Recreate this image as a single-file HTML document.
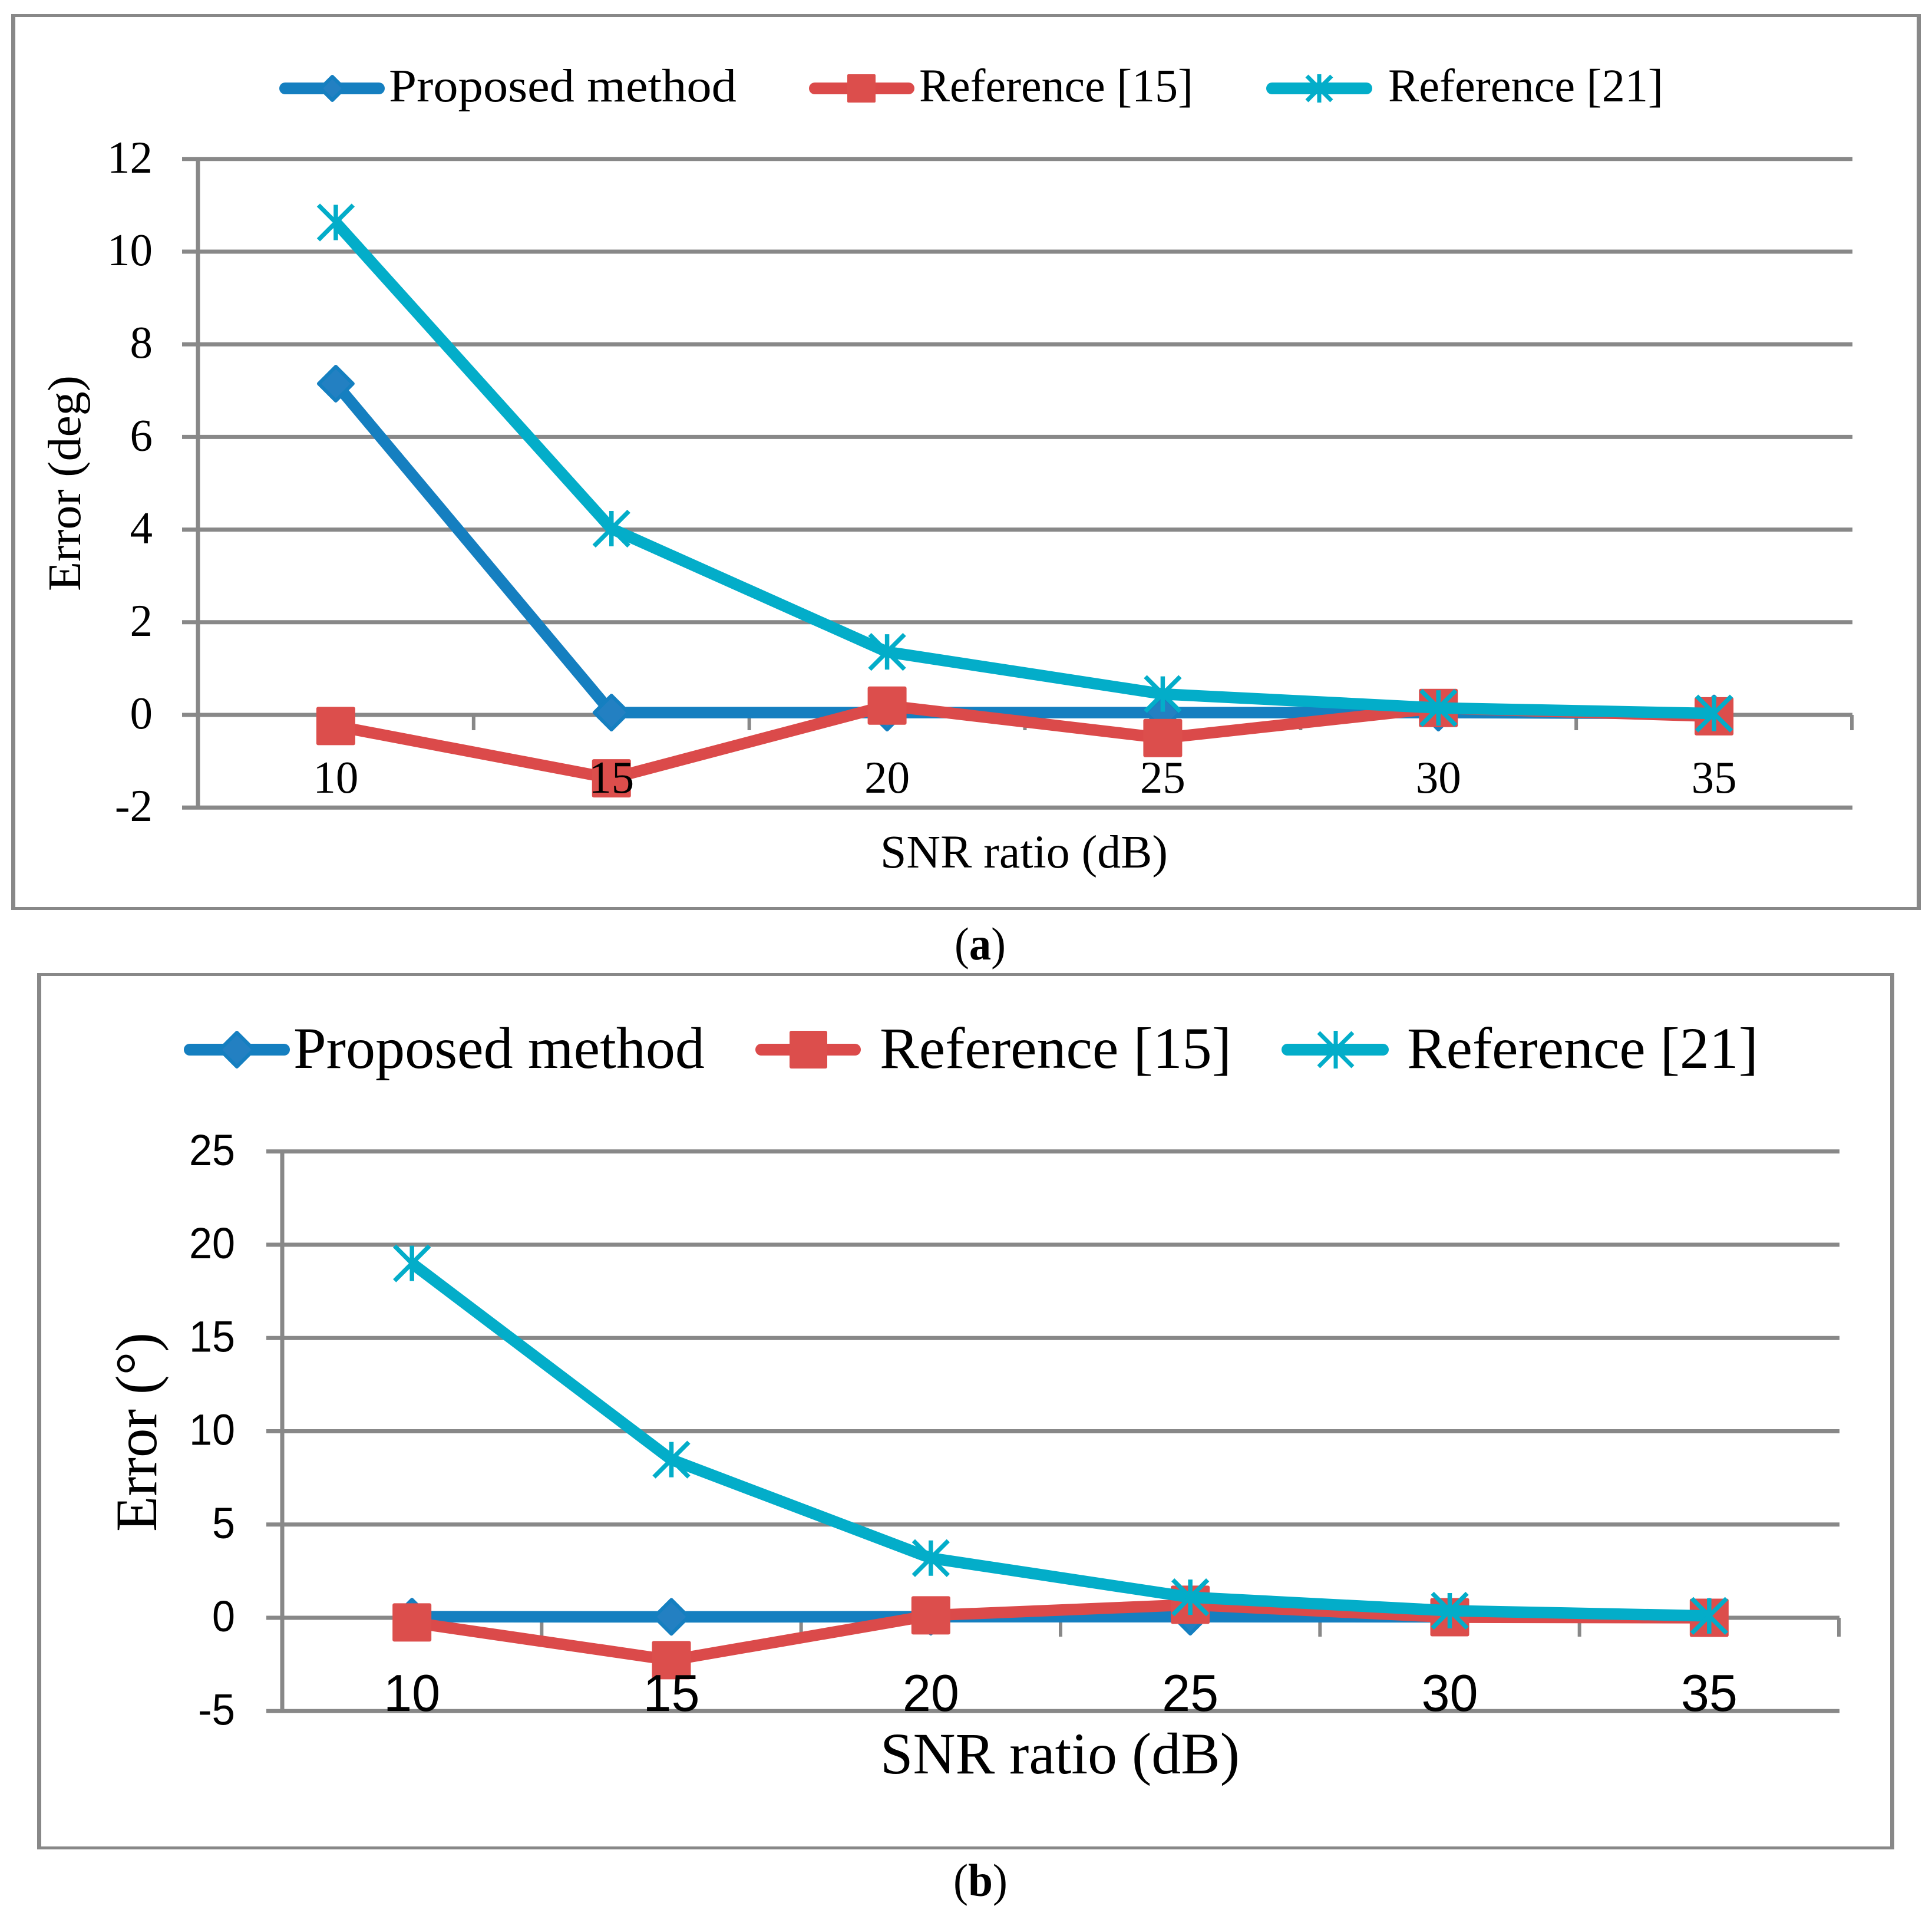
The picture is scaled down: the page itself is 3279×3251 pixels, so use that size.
<!DOCTYPE html>
<html lang="en">
<head>
<meta charset="utf-8">
<title>SNR ratio vs. error charts</title>
<style>
html,body{margin:0;padding:0;background:#fff;}
svg{display:block;}
text{fill:#000;font-family:"Liberation Serif",serif;}
.sans{font-family:"Liberation Sans",sans-serif;}
</style>
</head>
<body>
<svg id="figure" xmlns="http://www.w3.org/2000/svg" width="3279" height="3251" viewBox="0 0 3279 3251">
  <rect x="0" y="0" width="3279" height="3251" fill="#ffffff"/>

  <g fill="#888888">
    <rect x="19" y="24" width="3241" height="5"/>
    <rect x="19" y="1539" width="3241" height="5"/>
    <rect x="19" y="24" width="7" height="1520"/>
    <rect x="3253" y="24" width="7" height="1520"/>
  </g>
  <g fill="#888888">
    <rect x="63" y="1651" width="3152" height="5"/>
    <rect x="63" y="3133" width="3152" height="5"/>
    <rect x="63" y="1651" width="7" height="1487"/>
    <rect x="3208" y="1651" width="7" height="1487"/>
  </g>

  <g id="chart-a"></g>
  <g id="chart-b"></g>

  <g>
    <g>
      <line x1="484" y1="150" x2="643" y2="150" stroke="#157fc0" stroke-width="20" stroke-linecap="round"/>
      <polygon points="564,130 584,150 564,170 544,150" fill="#2380c2" stroke="#157fc0" stroke-width="6" stroke-linejoin="round"/>
      <text x="660" y="172" font-size="79" textLength="590" lengthAdjust="spacingAndGlyphs">Proposed method</text>
    </g>
    <g>
      <line x1="1383" y1="150" x2="1542" y2="150" stroke="#db4a4a" stroke-width="20" stroke-linecap="round"/>
      <rect x="1438" y="126" width="48" height="48" rx="2" fill="#dc4e4c"/>
      <text x="1560" y="172" font-size="79" textLength="465" lengthAdjust="spacingAndGlyphs">Reference [15]</text>
    </g>
    <g>
      <line x1="2159" y1="150" x2="2319" y2="150" stroke="#03adc9" stroke-width="20" stroke-linecap="round"/>
      <path d="M2239 126V174M2218 129L2260 171M2260 129L2218 171" stroke="#03adc9" stroke-width="7" fill="none"/>
      <text x="2356" y="172" font-size="79" textLength="467" lengthAdjust="spacingAndGlyphs">Reference [21]</text>
    </g>
  </g>

  <g>
    <g>
      <line x1="322" y1="1781" x2="482" y2="1781" stroke="#157fc0" stroke-width="20" stroke-linecap="round"/>
      <polygon points="402,1752 431,1781 402,1810 373,1781" fill="#2380c2" stroke="#157fc0" stroke-width="6" stroke-linejoin="round"/>
      <text x="498" y="1812" font-size="100" textLength="698" lengthAdjust="spacingAndGlyphs">Proposed method</text>
    </g>
    <g>
      <line x1="1292" y1="1781" x2="1451" y2="1781" stroke="#db4a4a" stroke-width="20" stroke-linecap="round"/>
      <rect x="1340" y="1749" width="64" height="64" rx="3" fill="#dc4e4c"/>
      <text x="1493" y="1812" font-size="100" textLength="597" lengthAdjust="spacingAndGlyphs">Reference [15]</text>
    </g>
    <g>
      <line x1="2185" y1="1781" x2="2347" y2="1781" stroke="#03adc9" stroke-width="20" stroke-linecap="round"/>
      <path d="M2267 1749V1813M2238 1752L2296 1810M2296 1752L2238 1810" stroke="#03adc9" stroke-width="7" fill="none"/>
      <text x="2388" y="1812" font-size="100" textLength="596" lengthAdjust="spacingAndGlyphs">Reference [21]</text>
    </g>
  </g>

  <text x="1494" y="1472" font-size="79" textLength="488" lengthAdjust="spacingAndGlyphs">SNR ratio (dB)</text>
  <text transform="translate(136,1003) rotate(-90)" x="0" y="0" font-size="79" textLength="366" lengthAdjust="spacingAndGlyphs">Error (deg)</text>
  <text x="1494" y="3009" font-size="100" textLength="610" lengthAdjust="spacingAndGlyphs">SNR ratio (dB)</text>
  <text transform="translate(265,2599) rotate(-90)" x="0" y="0" font-size="100" textLength="338" lengthAdjust="spacingAndGlyphs">Error (°)</text>

  <text x="1620" y="1628" font-size="78" textLength="87" lengthAdjust="spacingAndGlyphs">(<tspan font-weight="bold">a</tspan>)</text>
  <text x="1618" y="3217" font-size="78" textLength="92" lengthAdjust="spacingAndGlyphs">(<tspan font-weight="bold">b</tspan>)</text>
</svg>

<script>
// Shared category labels (SNR ratio, dB)
const snrCategories = ['10', '15', '20', '25', '30', '35'];

// Chart (a) values
const chartAYTicks = [-2, 0, 2, 4, 6, 8, 10, 12];
const chartAProposed = [7.15, 0.05, 0.05, 0.05, 0.05, 0.03];
const chartAReference15 = [-0.24, -1.37, 0.2, -0.5, 0.15, -0.03];
const chartAReference21 = [10.63, 4.02, 1.36, 0.45, 0.15, 0.03];

// Chart (b) values
const chartBYTicks = [-5, 0, 5, 10, 15, 20, 25];
const chartBProposed = [0.06, 0.05, 0.06, 0.06, 0.05, 0.05];
const chartBReference15 = [-0.25, -2.27, 0.13, 0.7, 0.03, 0];
const chartBReference21 = [19.0, 8.48, 3.2, 1.1, 0.38, 0.1];

const SVGNS = 'http://www.w3.org/2000/svg';
const GREY = '#888888';
const BLUE = '#157fc0', BLUE_MARK = '#2380c2';
const RED = '#db4a4a', RED_MARK = '#dc4e4c';
const CYAN = '#03adc9';

function make(parent, tag, attrs, text) {
  const n = document.createElementNS(SVGNS, tag);
  for (const k in attrs) n.setAttribute(k, attrs[k]);
  if (text !== undefined) n.textContent = text;
  parent.appendChild(n);
  return n;
}

function drawChart(rootId, cfg, categories, yTicks, seriesList) {
  const root = document.getElementById(rootId);
  const n = categories.length;
  const band = (cfg.xRight - cfg.xLeft) / n;
  const xAxis = i => cfg.xLeft + band * (i + 0.5);
  const yAxis = v => cfg.yZero - (v * cfg.yUnit);
  const yMin = yTicks[0], yMax = yTicks[yTicks.length - 1];

  const axes = make(root, 'g', {});
  
  

  yTicks.forEach(t => {
    const g = make(axes, 'line', {x1: cfg.gridLeft, x2: cfg.xRight + 1, y1: yAxis(t), y2: yAxis(t), stroke: GREY, 'stroke-width': 7});
    
    
  });
  const yLine = make(axes, 'line', {x1: cfg.xLeft, x2: cfg.xLeft, y1: yAxis(yMax), y2: yAxis(yMin), stroke: GREY, 'stroke-width': 7});
  
  
  for (let i = 1; i <= n; i++) {
    const x = cfg.xLeft + band * i;
    const tick = make(axes, 'line', {x1: x, x2: x, y1: yAxis(0), y2: yAxis(0) + cfg.tickLen, stroke: GREY, 'stroke-width': 6});
    
    
  }

  seriesList.forEach(s => {
    const g = make(root, 'g', {});
    
    
    const pts = s.values.map((v, i) => xAxis(i) + ',' + yAxis(v)).join(' ');
    const line = make(g, 'polyline', {points: pts, fill: 'none', stroke: s.color, 'stroke-width': 19.5, 'stroke-linejoin': 'round'});
    
    
    s.values.forEach((v, i) => {
      const x = xAxis(i), y = yAxis(v);
      let m;
      if (s.marker === 'diamond') {
        m = make(g, 'polygon', {points: [x, y - 29, x + 29, y, x, y + 29, x - 29, y].join(' '), fill: s.markColor, stroke: s.color, 'stroke-width': 6, 'stroke-linejoin': 'round'});
      } else if (s.marker === 'square') {
        m = make(g, 'rect', {x: x - 33, y: y - 32.5, width: 66, height: 65, rx: 3, fill: s.markColor});
      } else {
        const d = 'M' + x + ' ' + (y - 30) + 'V' + (y + 30) +
                  'M' + (x - 29.5) + ' ' + (y - 29.5) + 'L' + (x + 29.5) + ' ' + (y + 29.5) +
                  'M' + (x + 29.5) + ' ' + (y - 29.5) + 'L' + (x - 29.5) + ' ' + (y + 29.5);
        m = make(g, 'path', {d: d, fill: 'none', stroke: s.color, 'stroke-width': 7.5});
      }
      
      
    });
  });

  const labelW = (str, dw, hw) => str.split('').reduce((a, c) => a + (c === '-' ? hw : dw), 0);

  yTicks.forEach(t => {
    const a = {x: cfg.yLabelX, y: yAxis(t) + cfg.yLabelDy, 'font-size': cfg.yFont, 'text-anchor': 'end'};
    if (cfg.sans) {
      a['class'] = 'sans';
      a.textLength = labelW(String(t), 39, 24);
      a.lengthAdjust = 'spacingAndGlyphs';
    }
    const lab = make(root, 'text', a, String(t));
    
    
  });
  categories.forEach((c, i) => {
    const a = {x: xAxis(i), y: cfg.xLabelY, 'font-size': cfg.xFont, 'text-anchor': 'middle'};
    if (cfg.sans) {
      a['class'] = 'sans';
      a.textLength = labelW(c, 48, 24);
      a.lengthAdjust = 'spacingAndGlyphs';
    }
    const lab = make(root, 'text', a, c);
    
    
  });
}

drawChart('chart-a',
  {xLeft: 336, xRight: 3143, gridLeft: 309, yZero: 1213, yUnit: 78.6, tickLen: 26, yLabelX: 259, yLabelDy: 23, yFont: 77, xFont: 77, xLabelY: 1345, sans: false},
  snrCategories, chartAYTicks,
  [
    {name: 'proposed-method', values: chartAProposed, color: BLUE, markColor: BLUE_MARK, marker: 'diamond'},
    {name: 'reference-15', values: chartAReference15, color: RED, markColor: RED_MARK, marker: 'square'},
    {name: 'reference-21', values: chartAReference21, color: CYAN, markColor: CYAN, marker: 'star'}
  ]);

drawChart('chart-b',
  {xLeft: 479, xRight: 3121, gridLeft: 452, yZero: 2745, yUnit: 31.65, tickLen: 32, yLabelX: 399, yLabelDy: 23, yFont: 74, xFont: 88, xLabelY: 2903, sans: true},
  snrCategories, chartBYTicks,
  [
    {name: 'proposed-method', values: chartBProposed, color: BLUE, markColor: BLUE_MARK, marker: 'diamond'},
    {name: 'reference-15', values: chartBReference15, color: RED, markColor: RED_MARK, marker: 'square'},
    {name: 'reference-21', values: chartBReference21, color: CYAN, markColor: CYAN, marker: 'star'}
  ]);
</script>
</body>
</html>
